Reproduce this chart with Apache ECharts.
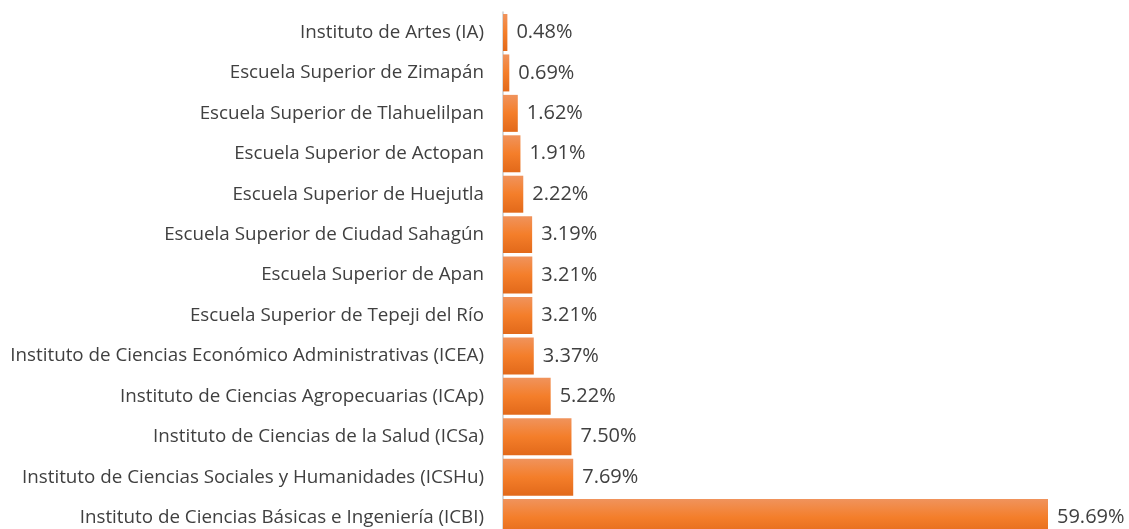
<!DOCTYPE html>
<html><head><meta charset="utf-8">
<script src="https://cdn.jsdelivr.net/npm/echarts@6/dist/echarts.min.js"></script>
<style>html,body{margin:0;padding:0;background:#fff}#c{width:1129px;height:529px}</style>
</head><body><div id="c"></div>
<script>
const categories = [
  "Instituto de Artes (IA)",
  "Escuela Superior de Zimapán",
  "Escuela Superior de Tlahuelilpan",
  "Escuela Superior de Actopan",
  "Escuela Superior de Huejutla",
  "Escuela Superior de Ciudad Sahagún",
  "Escuela Superior de Apan",
  "Escuela Superior de Tepeji del Río",
  "Instituto de Ciencias Económico Administrativas (ICEA)",
  "Instituto de Ciencias Agropecuarias (ICAp)",
  "Instituto de Ciencias de la Salud (ICSa)",
  "Instituto de Ciencias Sociales y Humanidades (ICSHu)",
  "Instituto de Ciencias Básicas e Ingeniería (ICBI)"
];
const values = [0.48, 0.69, 1.62, 1.91, 2.22, 3.19, 3.21, 3.21, 3.37, 5.22, 7.50, 7.69, 59.69];

const chart = echarts.init(document.getElementById('c'), null, {renderer: 'canvas'});
chart.setOption({
  animation: false,
  grid: {left: 503, right: 81, top: 12.3, height: 525.5, containLabel: false, outerBoundsMode: 'none'},
  xAxis: {type: 'value', min: 0, max: 59.69, show: false},
  yAxis: {
    type: 'category', data: categories, inverse: true,
    axisLine: {show: true, lineStyle: {color: '#D9D9D9', width: 2}},
    axisTick: {show: false},
    axisLabel: {color: '#404040', fontFamily: 'Open Sans', fontSize: 18.8, margin: 19, padding: [4, 0, 0, 0]}
  },
  series: [{
    type: 'bar', data: values, barCategoryGap: '8.5%',
    itemStyle: {color: new echarts.graphic.LinearGradient(0, 0, 0, 1, [
      {offset: 0, color: '#F0935C'},
      {offset: 0.5, color: '#F47E2A'},
      {offset: 1, color: '#E2691A'}
    ])},
    label: {show: true, position: 'right', distance: 9, color: '#404040',
      fontFamily: 'Open Sans', fontSize: 20, padding: [4, 0, 0, 0],
      formatter: p => p.value.toFixed(2) + '%'}
  }]
});
</script></body></html>
